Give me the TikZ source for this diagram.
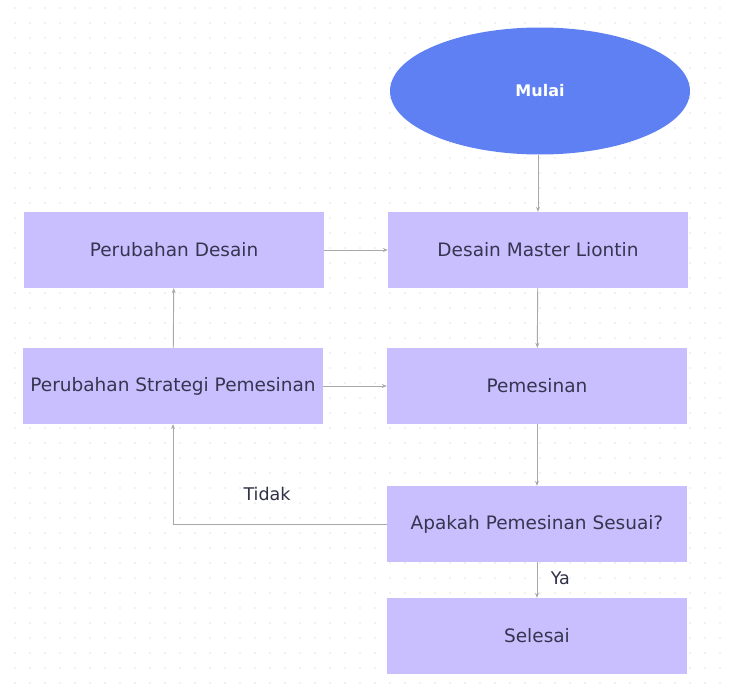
\documentclass[tikz,border=0pt]{standalone}
\usepackage{fontspec}
\setmainfont{DejaVu Sans}
\usetikzlibrary{shapes.geometric,arrows.meta}
\definecolor{boxfill}{HTML}{C9BFFF}
\definecolor{startfill}{HTML}{5E80F2}
\definecolor{txt}{HTML}{35354F}
\definecolor{lnk}{HTML}{A8A8A8}
\definecolor{dotc}{HTML}{E4E4E4}
\tikzset{
  stepbox/.style={draw=none, fill=boxfill, minimum width=300pt, minimum height=76pt, text=txt, font=\fontsize{18.5}{22}\selectfont, inner sep=0pt},
  startnode/.style={ellipse, fill=startfill, minimum width=300pt, minimum height=127pt, text=white, font=\bfseries\fontsize{16}{19}\selectfont, inner sep=0pt},
  link/.style={draw=lnk, line width=0.9pt, -{Stealth[length=5pt,width=4pt]}},
  lbl/.style={text=txt!90!black, font=\fontsize{17.5}{21}\selectfont}
}
\begin{document}
\begin{tikzpicture}[x=1pt,y=-1pt]
\useasboundingbox (0,0) rectangle (732,688);
\fill[white] (0,0) rectangle (732,688);
\foreach \i in {0,...,48}{
  \foreach \j in {0,...,45}{
    \fill[dotc] (15+15*\i,8+15*\j) circle (0.9pt);
  }
}
\node[startnode] (start) at (540,91) {Mulai};
\node[stepbox] (desain) at (538,250) {Desain Master Liontin};
\node[stepbox] (ubahdesain) at (174,250) {Perubahan Desain};
\node[stepbox] (strategi) at (173,386) {Perubahan Strategi Pemesinan};
\node[stepbox] (mesin) at (537,386) {Pemesinan};
\node[stepbox] (cek) at (537,524) {Apakah Pemesinan Sesuai?};
\node[stepbox] (selesai) at (537,636) {Selesai};
\draw[link] (start.south -| desain.north) -- (desain.north);
\draw[link] (desain) -- (mesin);
\draw[link] (mesin) -- (cek);
\draw[link] (cek) -- node[lbl, right=10pt, pos=0.45] {Ya} (selesai);
\draw[link] (cek.west) -| (strategi.south);
\draw[link] (strategi) -- (ubahdesain);
\draw[link] (ubahdesain) -- (desain);
\draw[link] (strategi) -- (mesin);
\node[lbl] (tidak) at (267,494) {Tidak};
\end{tikzpicture}
\end{document}
